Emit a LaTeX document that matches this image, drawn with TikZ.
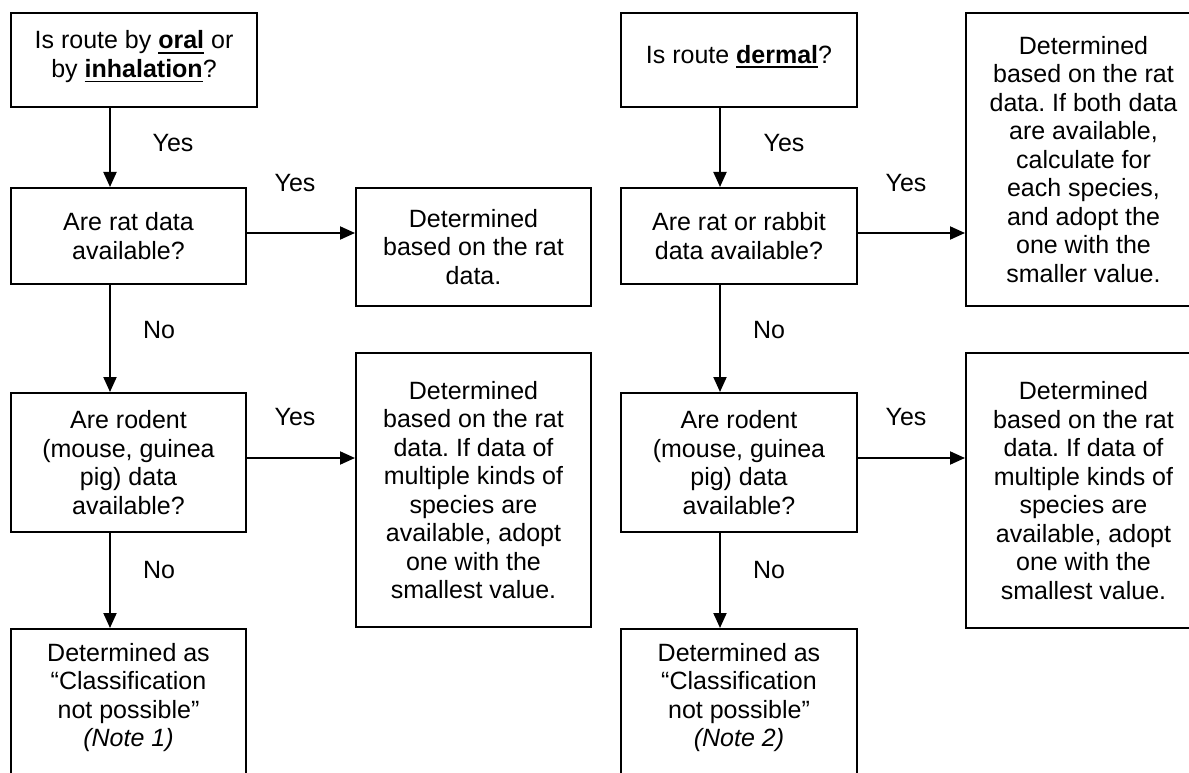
\documentclass[tikz,border=0pt]{standalone}
\usepackage{fontspec}
\setmainfont{Liberation Sans}
\usetikzlibrary{positioning,arrows.meta}
\frenchspacing

\newcommand{\ulbold}[1]{\setbox0=\hbox{\textbf{#1}}\rlap{\rule[-5pt]{\wd0}{1.8pt}}\box0\relax}

\begin{document}
\begin{tikzpicture}[x=1pt, y=-1pt,
  box/.style={draw, line width=2pt, align=center, inner sep=0pt,
    font=\fontsize{25}{28.5}\selectfont},
  txt/.style={align=center, inner sep=0pt, font=\fontsize{25}{28.5}\selectfont},
  arr/.style={line width=2pt, -{Triangle[length=15pt,width=13pt]}}]
  \useasboundingbox (0,0) rectangle (1189,773);
  \coordinate (lx) at (110,0);
  \coordinate (rx) at (720,0);

  % oral / inhalation
  \node[box, minimum width=246pt, minimum height=94pt, text depth=12pt] (oral) at (134,60)
    {Is route by \ulbold{oral} or\\by \ulbold{inhalation}?};
  \node[box, minimum width=235pt, minimum height=96pt] (rat) at (128.5,236)
    {Are rat data\\available?};
  \node[box, minimum width=235pt, minimum height=139pt] (rodent) at (128.5,462.5)
    {Are rodent\\(mouse, guinea\\pig) data\\available?};
  \node[box, minimum width=235pt, minimum height=170pt, anchor=north] (none) at (128.5,628) {};
  \node[txt, below=15pt of none.north] (nonetxt)
    {Determined as\\“Classification\\not possible”\\\textit{(Note 1)}};
  \node[box, minimum width=235pt, minimum height=118pt] (ratres) at (473.5,247)
    {Determined\\based on the rat\\data.};
  \node[box, minimum width=235pt, minimum height=274pt] (rodres) at (473.5,490)
    {Determined\\based on the rat\\data. If data of\\multiple kinds of\\species are\\available, adopt\\one with the\\smallest value.};

  % dermal
  \node[box, minimum width=236pt, minimum height=94pt, text depth=12pt] (derm) at (739,60)
    {Is route \ulbold{dermal}?};
  \node[box, minimum width=236pt, minimum height=96pt] (rab) at (739,236)
    {Are rat or rabbit\\data available?};
  \node[box, minimum width=236pt, minimum height=139pt] (drodent) at (739,462.5)
    {Are rodent\\(mouse, guinea\\pig) data\\available?};
  \node[box, minimum width=236pt, minimum height=170pt, anchor=north] (dnone) at (739,628) {};
  \node[txt, below=15pt of dnone.north] (dnonetxt)
    {Determined as\\“Classification\\not possible”\\\textit{(Note 2)}};
  \node[box, minimum width=235pt, minimum height=293pt] (rabres) at (1083.5,159.5)
    {Determined\\based on the rat\\data. If both data\\are available,\\calculate for\\each species,\\and adopt the\\one with the\\smaller value.};
  \node[box, minimum width=235pt, minimum height=275pt] (drodres) at (1083.5,490.5)
    {Determined\\based on the rat\\data. If data of\\multiple kinds of\\species are\\available, adopt\\one with the\\smallest value.};

  % arrows
  \draw[arr] (oral.south -| lx) -- (rat.north -| lx);
  \draw[arr] (rat.south -| lx) -- (rodent.north -| lx);
  \draw[arr] (rodent.south -| lx) -- (none.north -| lx);
  \draw[arr] (rat.east) ++(0,3pt) coordinate (a1) -- (a1 -| ratres.west);
  \draw[arr] (rodent.east) ++(0,4.5pt) coordinate (a2) -- (a2 -| rodres.west);
  \draw[arr] (derm.south -| rx) -- (rab.north -| rx);
  \draw[arr] (rab.south -| rx) -- (drodent.north -| rx);
  \draw[arr] (drodent.south -| rx) -- (dnone.north -| rx);
  \draw[arr] (rab.east) ++(0,3pt) coordinate (a3) -- (a3 -| rabres.west);
  \draw[arr] (drodent.east) ++(0,4.5pt) coordinate (a4) -- (a4 -| drodres.west);

  % labels
  \node[txt] (y1) at (173,143) {Yes};
  \node[txt] (y2) at (295,183) {Yes};
  \node[txt] (n1) at (159,330) {No};
  \node[txt] (y3) at (295,417) {Yes};
  \node[txt] (n2) at (159,570) {No};
  \node[txt] (y4) at (784,143) {Yes};
  \node[txt] (y5) at (906,183) {Yes};
  \node[txt] (n3) at (769,330) {No};
  \node[txt] (y6) at (906,417) {Yes};
  \node[txt] (n4) at (769,570) {No};
\end{tikzpicture}
\end{document}
